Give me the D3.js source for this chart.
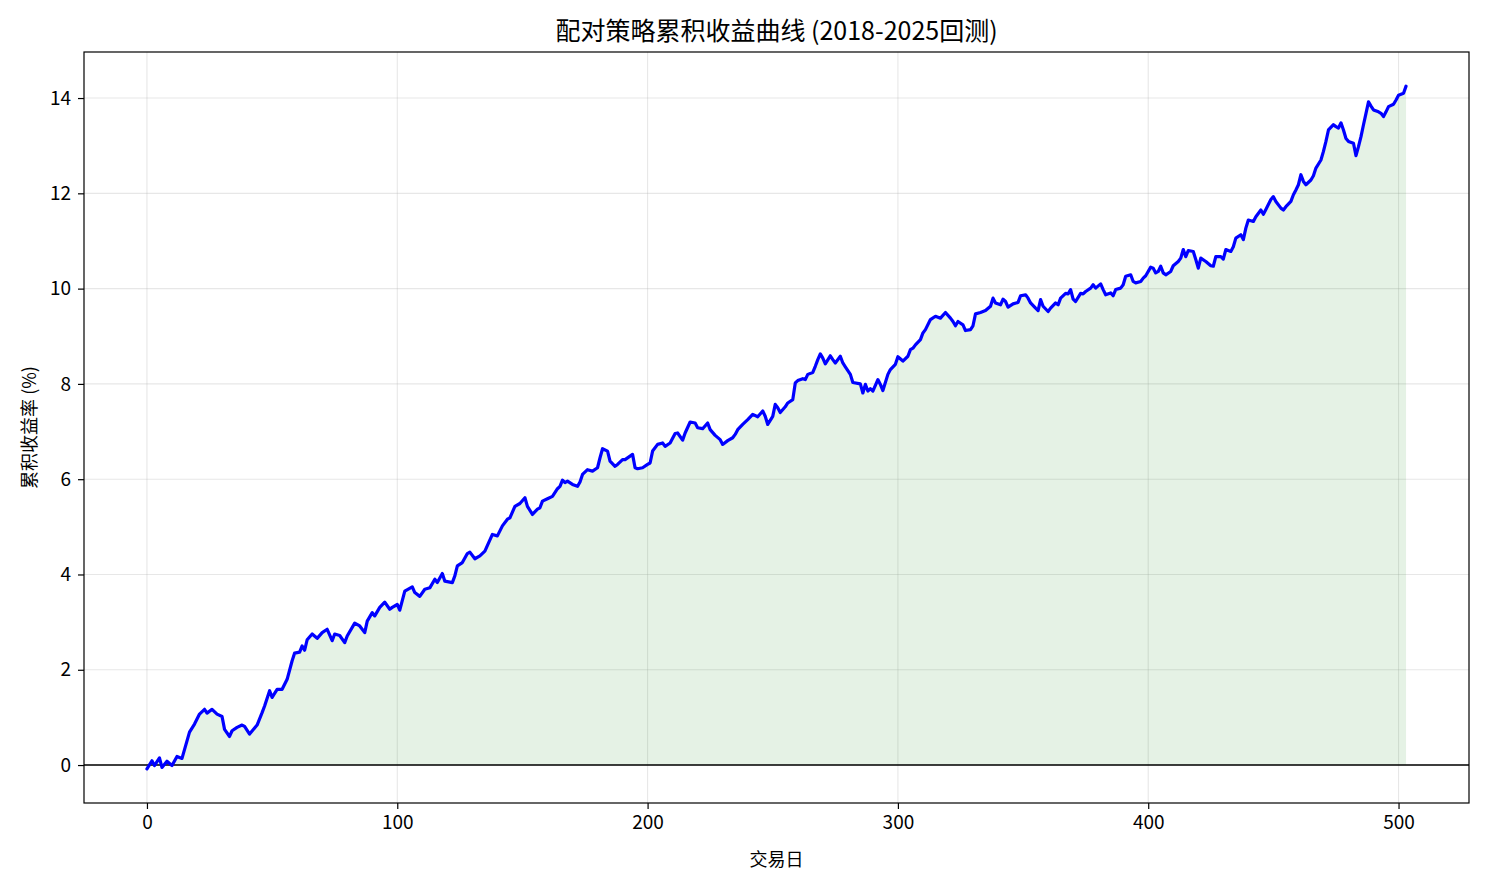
<!DOCTYPE html>
<html>
<head>
<meta charset="utf-8">
<script src="https://cdn.jsdelivr.net/npm/d3@7"></script>
<style>
  body { margin: 0; background: #ffffff; }
  text { font-family: "Noto Sans CJK SC", "Noto Sans", sans-serif; }
</style>
</head>
<body>
<svg id="mainsvg" width="1485" height="884"></svg>
<script>

const TITLE = "配对策略累积收益曲线 (2018-2025回测)"
const X_LABEL = "交易日"
const Y_LABEL = "累积收益率 (%)"
const X_TICKS = [0, 100, 200, 300, 400, 500]
const Y_TICKS = [0, 2, 4, 6, 8, 10, 12, 14]

// 交易日序号
const days = [
    0, 2, 3, 5, 6, 8, 10, 12, 14, 17, 19, 21, 23, 24, 26, 28, 30, 31, 33, 34,
    36, 38, 39, 41, 44, 46, 47, 49, 50, 52, 54, 56, 58, 59, 61, 62, 63, 64, 66, 68,
    70, 72, 74, 75, 77, 79, 80, 83, 85, 87, 88, 90, 91, 93, 95, 97, 98, 100, 101, 103,
    106, 107, 109, 111, 113, 115, 116, 118, 119, 122, 123, 124, 126, 128, 129, 131, 133, 135, 138, 140,
    142, 144, 145, 147, 149, 151, 152, 154, 156, 157, 158, 160, 162, 164, 165, 166, 167, 168, 170, 172,
    173, 174, 176, 178, 180, 181, 182, 184, 185, 187, 188, 190, 191, 194, 195, 196, 198, 200, 201, 202,
    204, 206, 207, 209, 211, 212, 214, 215, 217, 219, 220, 222, 224, 225, 227, 229, 230, 232, 234, 235,
    236, 238, 240, 242, 244, 246, 247, 248, 250, 251, 252, 253, 255, 256, 258, 259, 260, 262, 263, 264,
    266, 267, 268, 269, 270, 271, 273, 274, 275, 277, 278, 279, 281, 282, 285, 286, 287, 288, 289, 290,
    292, 293, 294, 296, 297, 299, 300, 302, 304, 305, 306, 307, 309, 310, 311, 313, 315, 317, 319, 321,
    322, 323, 324, 326, 327, 329, 330, 331, 333, 335, 337, 338, 339, 341, 342, 343, 344, 346, 348, 349,
    351, 352, 353, 355, 356, 357, 358, 360, 361, 363, 364, 365, 367, 368, 369, 370, 371, 373, 374, 375,
    377, 378, 379, 381, 382, 383, 385, 386, 387, 389, 390, 391, 393, 394, 395, 397, 398, 399, 401, 402,
    403, 404, 405, 406, 407, 409, 410, 412, 413, 414, 415, 416, 418, 419, 420, 421, 423, 425, 426, 427,
    429, 430, 431, 433, 434, 435, 437, 438, 439, 440, 442, 443, 445, 446, 447, 449, 450, 451, 453, 454,
    455, 457, 458, 459, 460, 461, 462, 463, 465, 466, 467, 469, 470, 471, 472, 474, 475, 476, 477, 478,
    479, 480, 482, 483, 484, 485, 486, 487, 488, 489, 490, 492, 493, 494, 495, 496, 498, 499, 500, 502,
    503
]

// 累积收益率 (%)
const returns = [
    -0.08, 0.09, -0.01, 0.15, -0.05, 0.08, -0.01, 0.18, 0.14, 0.69, 0.86, 1.07, 1.17, 1.09, 1.17, 1.07, 1.02, 0.75, 0.60, 0.72,
    0.79, 0.84, 0.81, 0.65, 0.84, 1.10, 1.24, 1.56, 1.42, 1.59, 1.59, 1.80, 2.19, 2.35, 2.37, 2.50, 2.41, 2.63, 2.75, 2.66,
    2.78, 2.85, 2.61, 2.75, 2.72, 2.57, 2.71, 2.98, 2.92, 2.78, 3.02, 3.20, 3.13, 3.31, 3.42, 3.27, 3.31, 3.37, 3.25, 3.65,
    3.74, 3.62, 3.54, 3.69, 3.72, 3.90, 3.83, 4.02, 3.86, 3.83, 3.97, 4.18, 4.25, 4.44, 4.47, 4.33, 4.39, 4.49, 4.84, 4.81,
    5.02, 5.16, 5.19, 5.43, 5.49, 5.61, 5.43, 5.26, 5.37, 5.40, 5.54, 5.59, 5.64, 5.80, 5.85, 5.98, 5.93, 5.96, 5.89, 5.85,
    5.94, 6.10, 6.20, 6.17, 6.24, 6.45, 6.64, 6.59, 6.38, 6.27, 6.31, 6.41, 6.41, 6.52, 6.24, 6.22, 6.24, 6.31, 6.34, 6.59,
    6.73, 6.76, 6.69, 6.76, 6.96, 6.97, 6.82, 6.97, 7.20, 7.18, 7.08, 7.06, 7.18, 7.04, 6.92, 6.83, 6.73, 6.81, 6.87, 6.94,
    7.04, 7.15, 7.25, 7.36, 7.31, 7.43, 7.32, 7.15, 7.32, 7.57, 7.50, 7.40, 7.52, 7.60, 7.67, 8.02, 8.07, 8.11, 8.09, 8.20,
    8.24, 8.37, 8.51, 8.63, 8.54, 8.42, 8.59, 8.51, 8.44, 8.58, 8.44, 8.36, 8.20, 8.03, 8.00, 7.81, 7.99, 7.85, 7.90, 7.85,
    8.09, 7.99, 7.86, 8.20, 8.30, 8.41, 8.57, 8.48, 8.58, 8.72, 8.75, 8.82, 8.93, 9.07, 9.14, 9.35, 9.42, 9.38, 9.50, 9.38,
    9.31, 9.22, 9.31, 9.24, 9.12, 9.14, 9.22, 9.47, 9.50, 9.54, 9.63, 9.80, 9.70, 9.66, 9.78, 9.73, 9.61, 9.68, 9.71, 9.85,
    9.87, 9.80, 9.70, 9.59, 9.54, 9.77, 9.63, 9.52, 9.59, 9.70, 9.66, 9.80, 9.90, 9.89, 9.98, 9.78, 9.73, 9.90, 9.89, 9.94,
    10.01, 10.08, 10.01, 10.10, 9.98, 9.87, 9.91, 9.85, 9.98, 10.01, 10.08, 10.26, 10.29, 10.15, 10.12, 10.15, 10.22, 10.27, 10.45, 10.43,
    10.33, 10.36, 10.47, 10.33, 10.29, 10.36, 10.48, 10.57, 10.64, 10.82, 10.67, 10.80, 10.78, 10.61, 10.43, 10.64, 10.57, 10.48, 10.47, 10.67,
    10.67, 10.62, 10.82, 10.78, 10.88, 11.06, 11.13, 11.03, 11.27, 11.44, 11.41, 11.51, 11.65, 11.56, 11.66, 11.87, 11.93, 11.83, 11.69, 11.65,
    11.72, 11.83, 11.97, 12.07, 12.18, 12.39, 12.25, 12.18, 12.28, 12.37, 12.53, 12.70, 12.88, 13.09, 13.33, 13.44, 13.40, 13.37, 13.48, 13.33,
    13.15, 13.09, 13.05, 12.79, 12.98, 13.19, 13.44, 13.68, 13.92, 13.83, 13.75, 13.71, 13.68, 13.61, 13.71, 13.82, 13.87, 13.96, 14.06, 14.10,
    14.25
]

const WIDTH = 1485
const HEIGHT = 884
const MARGIN = { left: 84, right: 16, top: 52, bottom: 81 }

function renderChart () {

    let svg = d3.select("#mainsvg")
    let data = days.map((d, i) => ({ day: d, value: returns[i] }))

    let xExt = d3.extent(days)
    let xPad = (xExt[1] - xExt[0]) * 0.05
    let yExt = d3.extent(returns)
    let yPad = (yExt[1] - yExt[0]) * 0.05

    let x = d3.scaleLinear()
    .domain([xExt[0] - xPad, xExt[1] + xPad])
    .range([MARGIN.left, WIDTH - MARGIN.right])

    let y = d3.scaleLinear()
    .domain([yExt[0] - yPad, yExt[1] + yPad])
    .range([HEIGHT - MARGIN.bottom, MARGIN.top])

    let plot = svg.append("g").attr("id", "plot_group")

    // 网格
    plot.selectAll(".xgrid")
    .data(X_TICKS)
    .enter()
    .append("line")
    .attr("class", "xgrid")
    .attr("x1", d => x(d)).attr("x2", d => x(d))
    .attr("y1", MARGIN.top).attr("y2", HEIGHT - MARGIN.bottom)
    .attr("stroke", "#b0b0b0")
    .attr("stroke-opacity", 0.3)
    .attr("stroke-width", 1.1)

    plot.selectAll(".ygrid")
    .data(Y_TICKS)
    .enter()
    .append("line")
    .attr("class", "ygrid")
    .attr("x1", MARGIN.left).attr("x2", WIDTH - MARGIN.right)
    .attr("y1", d => y(d)).attr("y2", d => y(d))
    .attr("stroke", "#b0b0b0")
    .attr("stroke-opacity", 0.3)
    .attr("stroke-width", 1.1)

    // 填充区域
    let area = d3.area()
    .x(d => x(d.day))
    .y0(y(0))
    .y1(d => y(d.value))

    plot.append("path")
    .datum(data)
    .attr("fill", "green")
    .attr("fill-opacity", 0.1)
    .attr("d", area)

    // 零线
    plot.append("line")
    .attr("x1", MARGIN.left).attr("x2", WIDTH - MARGIN.right)
    .attr("y1", y(0)).attr("y2", y(0))
    .attr("stroke", "#000000")
    .attr("stroke-width", 1.4)

    // 收益曲线
    let line = d3.line()
    .x(d => x(d.day))
    .y(d => y(d.value))

    plot.append("path")
    .datum(data)
    .attr("fill", "none")
    .attr("stroke", "#0000ff")
    .attr("stroke-width", 3.2)
    .attr("stroke-linejoin", "round")
    .attr("stroke-linecap", "round")
    .attr("d", line)

    // 坐标轴
    let xAxis = svg.append("g")
    .attr("transform", `translate(0, ${HEIGHT - MARGIN.bottom})`)
    .call(d3.axisBottom(x).tickValues(X_TICKS).tickSize(6).tickPadding(7).tickSizeOuter(0))

    let yAxis = svg.append("g")
    .attr("transform", `translate(${MARGIN.left}, 0)`)
    .call(d3.axisLeft(y).tickValues(Y_TICKS).tickSize(6).tickPadding(7).tickSizeOuter(0))

    svg.selectAll(".domain").remove()
    svg.selectAll(".tick line").attr("stroke", "#000000").attr("stroke-width", 1.2)
    svg.selectAll(".tick text")
    .attr("fill", "#000000")
    .style("font-size", "19px")

    // 边框
    svg.append("rect")
    .attr("x", MARGIN.left)
    .attr("y", MARGIN.top)
    .attr("width", WIDTH - MARGIN.left - MARGIN.right)
    .attr("height", HEIGHT - MARGIN.top - MARGIN.bottom)
    .attr("fill", "none")
    .attr("stroke", "#000000")
    .attr("stroke-width", 1.2)

    // 标题与轴标签
    let cx = (MARGIN.left + WIDTH - MARGIN.right) / 2
    let cy = (MARGIN.top + HEIGHT - MARGIN.bottom) / 2

    svg.append("text")
    .attr("x", cx)
    .attr("y", 40)
    .attr("text-anchor", "middle")
    .style("font-size", "25px")
    .text(TITLE)

    svg.append("text")
    .attr("x", cx)
    .attr("y", 866)
    .attr("text-anchor", "middle")
    .style("font-size", "18px")
    .text(X_LABEL)

    svg.append("text")
    .attr("transform", `translate(36, ${cy}) rotate(-90)`)
    .attr("text-anchor", "middle")
    .style("font-size", "18px")
    .text(Y_LABEL)
}

renderChart()
</script>
</body>
</html>
